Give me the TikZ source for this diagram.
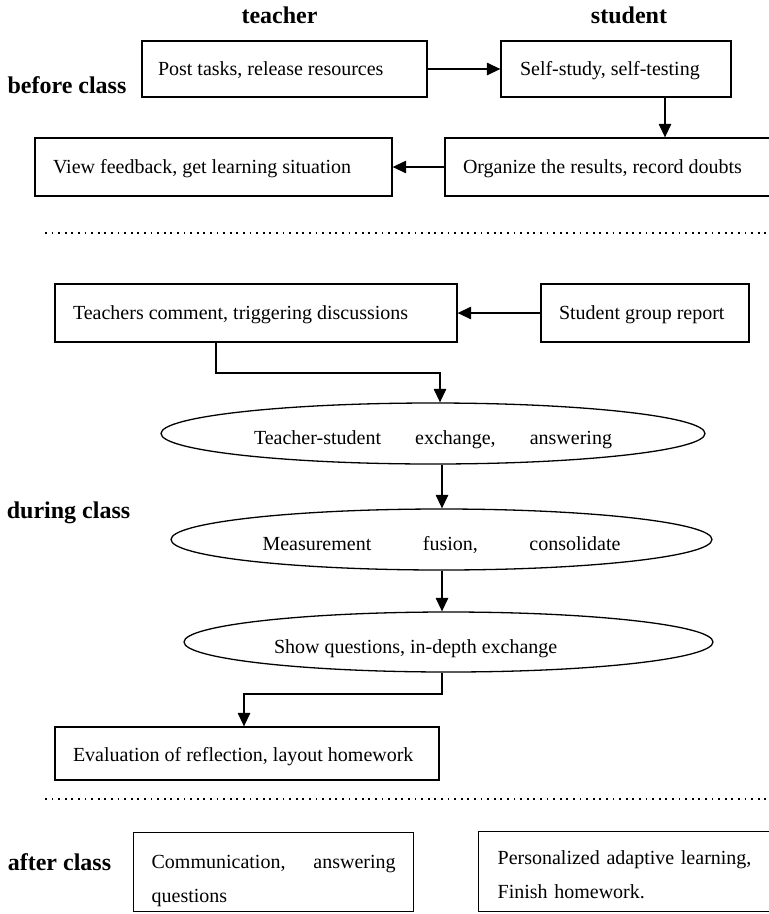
\documentclass[tikz,border=0pt]{standalone}
\usepackage{fontspec}
\setmainfont{Liberation Serif}
\usetikzlibrary{arrows.meta,shapes.geometric}
\newcommand{\lefttext}[2]{\makebox[#1][l]{#2}}
\begin{document}
\begin{tikzpicture}[x=1pt,y=-1pt,
  lbl/.style={font=\fontsize{24}{28}\selectfont\bfseries, inner sep=0pt, anchor=base},
  box/.style={draw, line width=1.3pt, inner ysep=0pt, text height=14pt, text depth=2pt,
    font=\fontsize{20}{24}\selectfont},
  twobox/.style={draw, line width=1.3pt, inner ysep=0pt, align=left, anchor=north west,
    font=\fontsize{20}{33.5}\selectfont},
  oval/.style={draw, ellipse, line width=1.3pt, inner sep=0pt, text height=26pt, text depth=4pt,
    font=\fontsize{20}{24}\selectfont},
  arr/.style={line width=1.3pt, -{Triangle[length=13.5pt,width=12.5pt]}},
  sepline/.style={line width=1.8pt, dash pattern=on 1.8pt off 4.8pt},
]
\fill[white] (0,0) rectangle (769,914);
\useasboundingbox (0,0) rectangle (769,914);

% column and phase labels
\node[lbl] (lt) at (279.5,23) {teacher};
\node[lbl] (ls) at (629,23) {student};
\node[lbl] (lb) at (67,93) {before class};
\node[lbl] (ld) at (68.5,518) {during class};
\node[lbl] (la) at (59.5,870) {after class};

% before class
\node[box, minimum height=56pt, inner xsep=16pt] (A) at (284.5,69) {\lefttext{253pt}{Post tasks, release resources}};
\node[box, minimum height=56pt, inner xsep=19pt] (B) at (616,69) {\lefttext{192pt}{Self-study, self-testing}};
\node[box, minimum height=58pt, inner xsep=18pt] (C) at (607.5,167) {\lefttext{289pt}{Organize the results, record doubts}};
\node[box, minimum height=58pt, inner xsep=18pt] (D) at (213.5,167) {\lefttext{321pt}{View feedback, get learning situation}};

\coordinate (c1) at (665,0);
\draw[arr] (A.east) -- (B.west);
\draw[arr] (B.south -| c1) -- (C.north -| c1);
\draw[arr] (C.west) -- (D.east);

\coordinate (s1) at (45,233);
\coordinate (s2) at (769,233);
\draw[sepline] (s1) -- (s2);

% during class
\node[box, minimum height=58pt, inner xsep=18pt] (E) at (256,313) {\lefttext{366pt}{Teachers comment, triggering discussions}};
\node[box, minimum height=58pt, inner xsep=18pt] (F) at (645,313) {\lefttext{172pt}{Student group report}};
\draw[arr] (F.west) -- (E.east);

\node[oval, minimum width=544pt, minimum height=61pt] (G) at (433,433.5)
  {\makebox[358pt]{Teacher-student\hfill exchange,\hfill answering}};
\node[oval, minimum width=541pt, minimum height=61pt] (H) at (441.5,539.5)
  {\makebox[358pt]{Measurement\hfill fusion,\hfill consolidate}};
\node[oval, minimum width=529pt, minimum height=60pt] (I) at (448.5,642)
  {\lefttext{349pt}{Show questions, in-depth exchange}};

\coordinate (e1) at (216,373);
\coordinate (e2) at (440,373);
\draw[arr] (E.south -| e1) -- (e1) -- (e2) -- (e2 |- G.north);
\coordinate (g1) at (442,0);
\draw[arr] (G.south -| g1) -- (H.north -| g1);
\draw[arr] (H.south -| g1) -- (I.north -| g1);

\node[box, minimum height=53pt, inner xsep=18pt, text height=17pt, text depth=1pt] (J) at (247,753.5)
  {\lefttext{348pt}{Evaluation of reflection, layout homework}};
\coordinate (i1) at (442,694);
\coordinate (i2) at (244,694);
\draw[arr] (I.south -| i1) -- (i1) -- (i2) -- (i2 |- J.north);

\coordinate (s3) at (45,799);
\coordinate (s4) at (769,799);
\draw[sepline] (s3) -- (s4);

% after class
\node[twobox, text width=244pt, inner xsep=18pt, text height=36pt, text depth=43pt] (K) at (133,832)
  {\makebox[244pt]{Communication,\hfill answering}\\questions};
\node[twobox, text width=254pt, inner xsep=19pt, text height=33pt, text depth=47pt] (L) at (478,831)
  {Personalized adaptive learning,\\Finish homework.};
\end{tikzpicture}
\end{document}
